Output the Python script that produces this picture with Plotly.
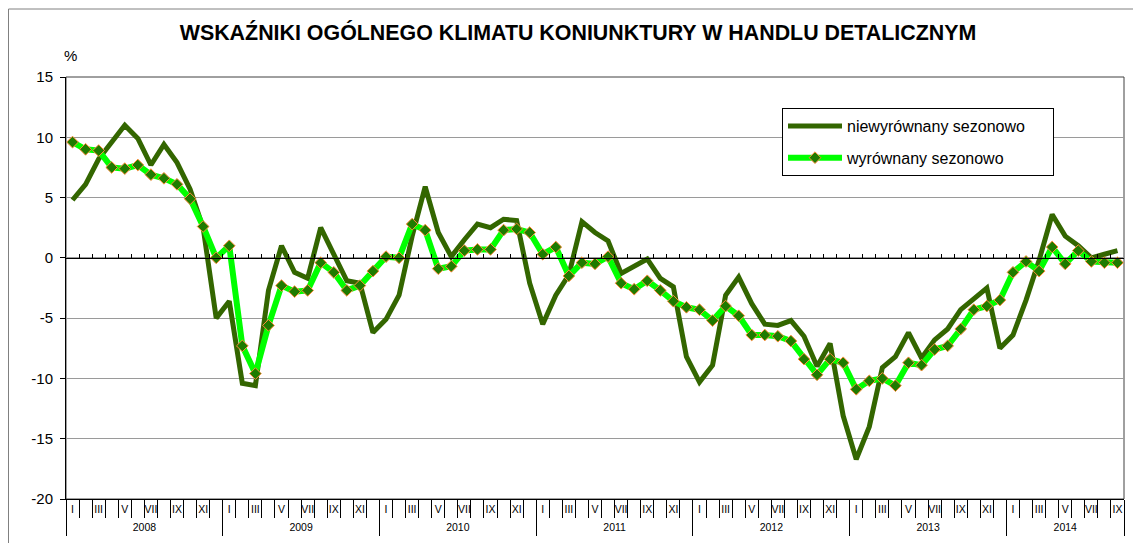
import plotly.graph_objects as go

# ---- data ----
years = ["2008", "2009", "2010", "2011", "2012", "2013", "2014"]
month_roman = ["I", "II", "III", "IV", "V", "VI", "VII", "VIII", "IX", "X", "XI", "XII"]
y_ticks = [-20, -15, -10, -5, 0, 5, 10, 15]

niewyrownany = [
    4.8, 6.1, 8.2, 9.6, 11.0, 9.9, 7.7, 9.4, 7.9, 5.7, 2.5, -5.0,
    -3.6, -10.4, -10.6, -2.7, 1.0, -1.2, -1.7, 2.5, 0.2, -1.9, -2.1, -6.2,
    -5.1, -3.1, 1.8, 5.9, 2.1, 0.1, 1.5, 2.8, 2.5, 3.2, 3.1, -2.1,
    -5.5, -3.1, -1.4, 3.0, 2.1, 1.4, -1.3, -0.7, -0.1, -1.7, -2.4, -8.2,
    -10.3, -8.9, -3.1, -1.6, -3.8, -5.5, -5.6, -5.2, -6.5, -9.0, -7.1, -13.1,
    -16.7, -14.0, -9.1, -8.2, -6.2, -8.3, -6.8, -5.9, -4.3, -3.4, -2.5, -7.5,
    -6.4, -3.5, -0.2, 3.6, 1.8, 1.0, 0.0, 0.3, 0.6,
]
wyrownany = [
    9.6, 9.0, 8.9, 7.5, 7.4, 7.7, 6.9, 6.6, 6.1, 4.9, 2.6, 0.0,
    1.0, -7.3, -9.6, -5.6, -2.3, -2.8, -2.7, -0.4, -1.2, -2.7, -2.3, -1.1,
    0.1, 0.0, 2.8, 2.3, -0.9, -0.7, 0.6, 0.7, 0.7, 2.3, 2.4, 2.1,
    0.3, 0.9, -1.5, -0.4, -0.5, 0.1, -2.1, -2.6, -1.9, -2.7, -3.6, -4.1,
    -4.3, -5.2, -4.0, -4.8, -6.4, -6.4, -6.5, -6.9, -8.4, -9.7, -8.4, -8.7,
    -10.9, -10.2, -10.0, -10.6, -8.7, -8.9, -7.6, -7.3, -5.9, -4.3, -4.0, -3.5,
    -1.2, -0.3, -1.1, 0.9, -0.5, 0.6, -0.3, -0.4, -0.4,
]

n = len(niewyrownany)
xs = list(range(n))

month_pos = [i for i in xs if (i % 12) % 2 == 0]
month_txt = [month_roman[i % 12] for i in month_pos]
bounds = [i - 0.5 for i in range(n + 1)]

year_centers, year_bounds = [], [-0.5]
for k, _ in enumerate(years):
    idx = [i for i in xs if i // 12 == k]
    year_centers.append((idx[0] + idx[-1]) / 2)
    year_bounds.append(idx[-1] + 0.5)

FONT = "Liberation Sans, Arial, sans-serif"
YMIN, YMAX = y_ticks[0], y_ticks[-1]

# The page body has an 8px margin, so the figure is laid out 8px smaller
# and every reference pixel position is shifted by that offset.
OFF = 8
W, H = 1141 - OFF, 543 - OFF
PL, PR, PT, PB = 66, 1124, 77, 499          # plot area in reference pixels
PW, PH = PR - PL, PB - PT


def px(xref_px):
    return (xref_px - PL) / PW


def py(yref_px):
    return (PB - yref_px) / PH


fig = go.Figure()
fig.add_trace(go.Scatter(
    x=xs, y=niewyrownany, mode="lines", name="niewyrównany sezonowo\u00a0\u00a0\u00a0\u00a0\u00a0",
    line=dict(color="#336600", width=5), legendgroup="a",
))
fig.add_trace(go.Scatter(
    x=xs, y=wyrownany, mode="lines+markers", name="wyrównany sezonowo",
    line=dict(color="#00ff00", width=6),
    marker=dict(symbol="diamond", size=9, color="#1e7b00",
                line=dict(color="#ff8c3a", width=1)),
    legendgroup="b",
))
# empty helper traces so that the overlaying category axes get drawn
for ax in ("x2", "x3"):
    fig.add_trace(go.Scatter(x=[], y=[], xaxis=ax, yaxis="y", showlegend=False,
                             hoverinfo="skip", mode="lines"))

xr = [-0.5, n - 0.5]
fig.update_layout(
    width=W, height=H, autosize=False,
    margin=dict(l=PL - OFF, r=W - (PR - OFF), t=PT - OFF, b=H - (PB - OFF)),
    paper_bgcolor="white", plot_bgcolor="white",
    font=dict(family=FONT, color="black"),
    title=dict(text="<b>WSKAŹNIKI OGÓLNEGO KLIMATU KONIUNKTURY W HANDLU DETALICZNYM</b>",
               x=(578 - OFF) / W, y=1 - (33 - OFF) / H, xanchor="center", yanchor="middle",
               xref="container", yref="container",
               font=dict(size=21.4, family=FONT, color="black")),
    showlegend=True,
    legend=dict(x=px(782), y=py(108), xanchor="left", yanchor="top",
                bgcolor="white", bordercolor="black", borderwidth=1,
                font=dict(size=16, family=FONT), tracegroupgap=8, itemwidth=54),
    xaxis=dict(
        domain=[0, 1], range=xr, tickmode="array", tickvals=month_pos, ticktext=month_txt,
        ticks="", showline=True, linecolor="black", linewidth=1, showgrid=False, zeroline=False,
        tickfont=dict(size=10.5), tickangle=0, automargin=False,
        minor=dict(tickmode="array", tickvals=bounds, ticks="outside", ticklen=18,
                   tickcolor="black", tickwidth=1, showgrid=False),
    ),
    xaxis2=dict(
        overlaying="x", anchor="y", side="bottom", range=xr, tickmode="array",
        tickvals=year_centers, ticktext=years, ticks="", ticklabelstandoff=20,
        showline=False, showgrid=False,
        zeroline=False, tickfont=dict(size=10.5), tickangle=0, automargin=False,
        minor=dict(tickmode="array", tickvals=year_bounds, ticks="outside", ticklen=36,
                   tickcolor="black", tickwidth=1, showgrid=False),
    ),
    xaxis3=dict(
        overlaying="x", anchor="free", side="bottom", position=(0 - YMIN) / (YMAX - YMIN),
        range=xr,
        tickmode="array", tickvals=bounds, ticks="inside", ticklen=4, tickcolor="black",
        showticklabels=False, showline=True, linecolor="black", linewidth=1,
        showgrid=False, zeroline=False, automargin=False,
    ),
    yaxis=dict(
        range=[YMIN, YMAX], tickmode="array", tickvals=y_ticks,
        ticktext=[str(v) for v in y_ticks], ticks="outside", ticklen=5,
        ticklabelstandoff=4,
        tickcolor="black", showline=True, linecolor="black", linewidth=1,
        showgrid=True, gridcolor="#9a9a9a", gridwidth=1, zeroline=False,
        tickfont=dict(size=15), automargin=False,
    ),
    shapes=[
        dict(type="rect", xref="x domain", yref="y domain", x0=0, x1=1, y0=0, y1=1,
             line=dict(color="#404040", width=1), layer="below"),
        dict(type="rect", xref="paper", yref="paper",
             x0=px(OFF + 0.5), x1=px(1140), y0=py(560), y1=py(9),
             line=dict(color="#808080", width=1), layer="below"),
    ],
    annotations=[
        dict(text="%", xref="paper", yref="paper", x=px(70), y=py(55),
             xanchor="center", yanchor="middle", showarrow=False, font=dict(size=15)),
    ],
)

fig.write_html("out.html")
